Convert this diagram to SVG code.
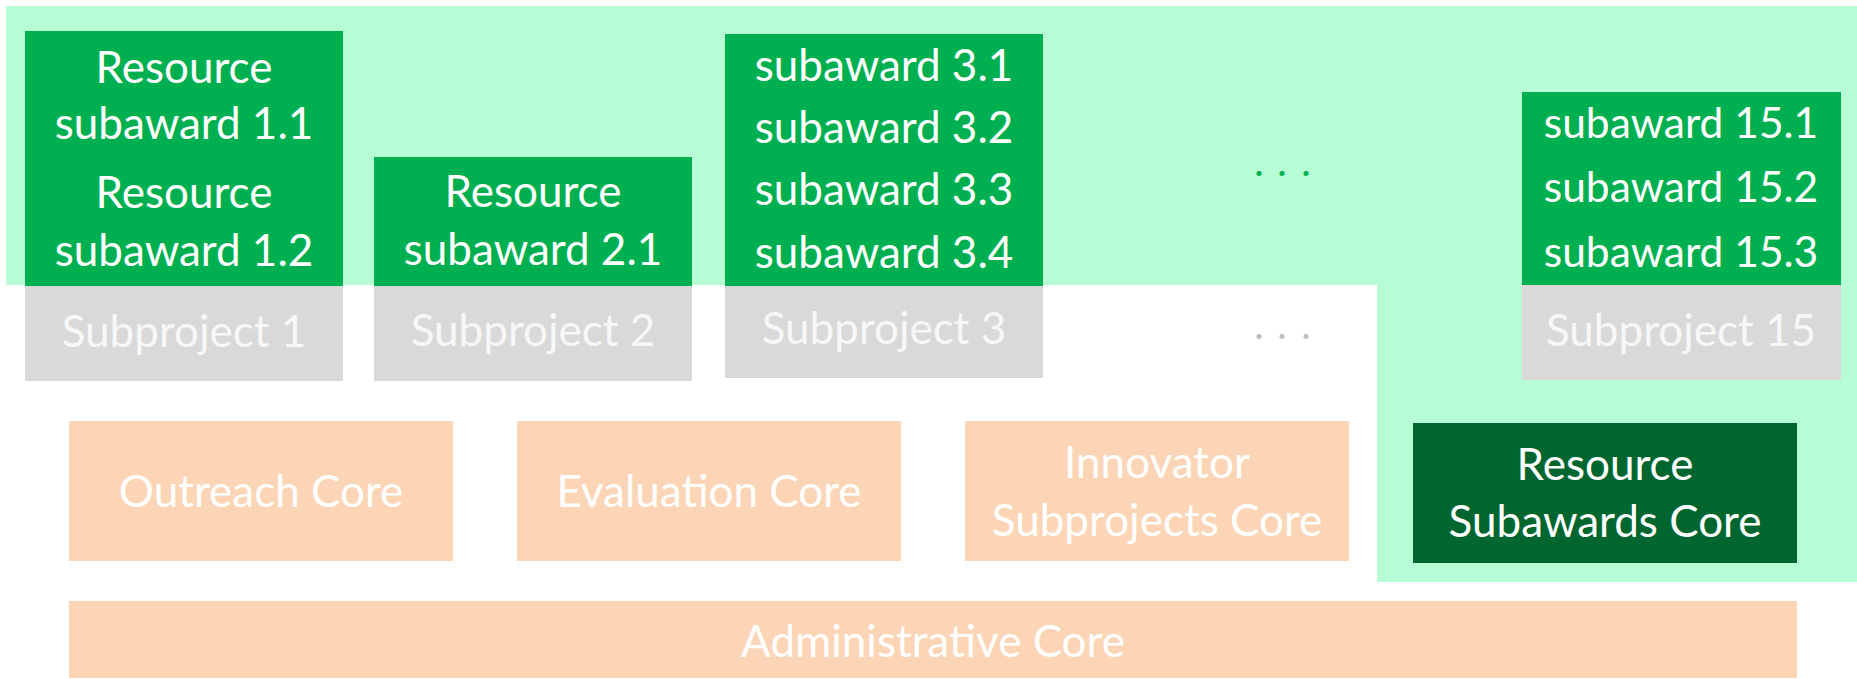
<svg xmlns="http://www.w3.org/2000/svg" width="1857" height="679" viewBox="0 0 1857 679">
<style>
text{font-family:Lato,"Liberation Sans",sans-serif;font-size:44px;text-anchor:middle}
.sa{fill:#00b050}
.sp{fill:#d9d9d9}
.core{fill:#fbd5b5}
.dk{fill:#006630}
.w{fill:#ffffff}
.s15{font-size:42.5px}
.g{fill:#f7f7f7}
.dg{fill:#00b050;font-size:40px}
.dgr{fill:#bfbfbf;font-size:40px}
</style>
<rect width="1857" height="679" fill="#ffffff"/>
<g id="resource-region">
<polygon points="6,6 1857,6 1857,582 1377,582 1377,285 6,285" fill="#b6fcd5"/>
</g>
<g id="connectors"/>
<g id="subproject-1">
<rect class="sa" x="25" y="31" width="318" height="255"/>
<text class="w" x="184" y="83">Resource</text>
<text class="w" x="184" y="139">subaward 1.1</text>
<text class="w" x="184" y="208">Resource</text>
<text class="w" x="184" y="266">subaward 1.2</text>
<rect class="sp" x="25" y="286" width="318" height="95"/>
<text class="g" x="184" y="347">Subproject 1</text>
</g>
<g id="subproject-2">
<rect class="sa" x="374" y="157" width="318" height="129"/>
<text class="w" x="533" y="207">Resource</text>
<text class="w" x="533" y="265">subaward 2.1</text>
<rect class="sp" x="374" y="286" width="318" height="95"/>
<text class="g" x="533" y="346">Subproject 2</text>
</g>
<g id="subproject-3">
<rect class="sa" x="725" y="34" width="318" height="252"/>
<text class="w" x="884" y="81">subaward 3.1</text>
<text class="w" x="884" y="143">subaward 3.2</text>
<text class="w" x="884" y="205">subaward 3.3</text>
<text class="w" x="884" y="268">subaward 3.4</text>
<rect class="sp" x="725" y="286" width="318" height="92"/>
<text class="g" x="884" y="344">Subproject 3</text>
</g>
<g id="ellipsis">
<text class="dg" x="1259 1270 1282 1294 1306" y="176">. . .</text>
<text class="dgr" x="1259 1270 1282 1294 1306" y="339">. . .</text>
</g>
<g id="subproject-15">
<rect class="sa" x="1522" y="92" width="319" height="193"/>
<text class="w s15" x="1681" y="138">subaward 15.1</text>
<text class="w s15" x="1681" y="202">subaward 15.2</text>
<text class="w s15" x="1681" y="267">subaward 15.3</text>
<rect class="sp" x="1522" y="285" width="319" height="95"/>
<text class="g" x="1681" y="346">Subproject 15</text>
</g>
<g id="outreach-core">
<rect class="core" x="69" y="421" width="384" height="140"/>
<text class="w" x="261" y="507">Outreach Core</text>
</g>
<g id="evaluation-core">
<rect class="core" x="517" y="421" width="384" height="140"/>
<text class="w" x="709" y="507">Evaluation Core</text>
</g>
<g id="innovator-subprojects-core">
<rect class="core" x="965" y="421" width="384" height="140"/>
<text class="w" x="1157" y="478">Innovator</text>
<text class="w" x="1157" y="536">Subprojects Core</text>
</g>
<g id="resource-subawards-core">
<rect class="dk" x="1413" y="423" width="384" height="140"/>
<text class="w" x="1605" y="480">Resource</text>
<text class="w" x="1605" y="537">Subawards Core</text>
</g>
<g id="administrative-core">
<rect class="core" x="69" y="601" width="1728" height="77"/>
<text class="w" x="933" y="657">Administrative Core</text>
</g>
</svg>
